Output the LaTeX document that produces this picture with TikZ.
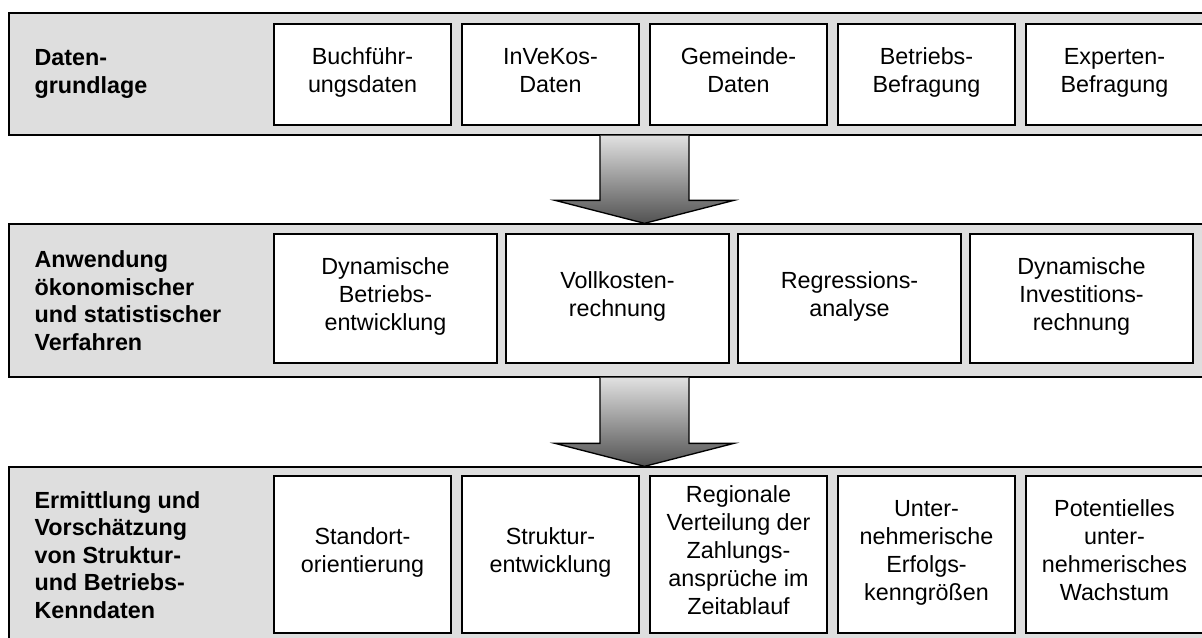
\documentclass[tikz,border=0pt]{standalone}
\usepackage{fontspec}
\setmainfont{Liberation Sans}
\usetikzlibrary{positioning,calc}
\newcommand{\boxfont}{\fontsize{17.5}{21}\selectfont}
\newcommand{\labfont}{\fontsize{17.5}{20.6}\selectfont\bfseries}

\begin{document}
\begin{tikzpicture}[x=0.75pt,y=-0.75pt,
	band/.style={draw,line width=1pt,fill=black!13,minimum width=903.75pt,inner sep=0pt},
	lab/.style={anchor=west,align=left,inner sep=0pt,font=\labfont},
	box/.style={draw,line width=1pt,fill=white,align=center,inner sep=0pt,font=\boxfont,
		execute at begin node={\strut},execute at end node={\strut}},
	smallbox/.style={box,minimum width=132.75pt},
	widebox/.style={box,minimum width=167.25pt,minimum height=96.75pt},
	blockarrow/.style={draw,line width=1pt,top color=black!12,bottom color=black!68}]
		\useasboundingbox (0,0) rectangle (1202,637);
		\clip (0,0) rectangle (1202,637);
		\node[band,minimum height=91.5pt] (band1) at (611.5,74) {};
		\node[band,minimum height=114.75pt] (band2) at (611.5,300.5) {};
		\node[band,minimum height=132pt] (band3) at (611.5,555) {};
		\node[lab] (lab1) at ($(band1.west)+(26,0)$) {Daten-\\grundlage};
		\node[lab] (lab2) at ($(band2.west)+(26,0)$) {Anwendung\\ökonomischer\\und statistischer\\Verfahren};
		\node[lab] (lab3) at ($(band3.west)+(26,0)$) {Ermittlung und\\Vorschätzung\\von Struktur-\\und Betriebs-\\Kenndaten};
		\node[smallbox,minimum height=75.75pt] (buch) at (362.5,74.5) {Buchführ-\\ungsdaten};
		\node[smallbox,minimum height=75.75pt] (invekos) at (550.5,74.5) {InVeKos-\\Daten};
		\node[smallbox,minimum height=75.75pt] (gemeinde) at (738.5,74.5) {Gemeinde-\\Daten};
		\node[smallbox,minimum height=75.75pt] (befragung) at (926.5,74.5) {Betriebs-\\Befragung};
		\node[smallbox,minimum height=75.75pt] (experten) at (1114.5,74.5) {Experten-\\Befragung};
		\node[widebox] (dynbetrieb) at (385.5,298.5) {Dynamische\\Betriebs-\\entwicklung};
		\node[widebox] (vollkosten) at (617.5,298.5) {Vollkosten-\\rechnung};
		\node[widebox] (regression) at (849.5,298.5) {Regressions-\\analyse};
		\node[widebox] (dyninvest) at (1081.5,298.5) {Dynamische\\Investitions-\\rechnung};
		\node[smallbox,minimum height=117.75pt] (standort) at (362.5,554.5) {Standort-\\orientierung};
		\node[smallbox,minimum height=117.75pt] (struktur) at (550.5,554.5) {Struktur-\\entwicklung};
		\node[smallbox,minimum height=117.75pt] (regional) at (738.5,554.5) {Regionale\\Verteilung der\\Zahlungs-\\ansprüche im\\Zeitablauf};
		\node[smallbox,minimum height=117.75pt] (erfolg) at (926.5,554.5) {Unter-\\nehmerische\\Erfolgs-\\kenngrößen};
		\node[smallbox,minimum height=117.75pt] (wachstum) at (1114.5,554.5) {Potentielles\\unter-\\nehmerisches\\Wachstum};
		\coordinate (ax) at (644.5,0);
		\path[blockarrow] ($(band1.south -| ax)+(-44.5,0)$) -- ($(band2.north -| ax)+(-44.5,-23)$) -- ($(band2.north -| ax)+(-89.5,-23)$) -- (band2.north -| ax) -- ($(band2.north -| ax)+(89.5,-23)$) -- ($(band2.north -| ax)+(44.5,-23)$) -- ($(band1.south -| ax)+(44.5,0)$);
		\path[blockarrow] ($(band2.south -| ax)+(-44.5,0)$) -- ($(band3.north -| ax)+(-44.5,-23)$) -- ($(band3.north -| ax)+(-89.5,-23)$) -- (band3.north -| ax) -- ($(band3.north -| ax)+(89.5,-23)$) -- ($(band3.north -| ax)+(44.5,-23)$) -- ($(band2.south -| ax)+(44.5,0)$);
	\end{tikzpicture}
\end{document}
